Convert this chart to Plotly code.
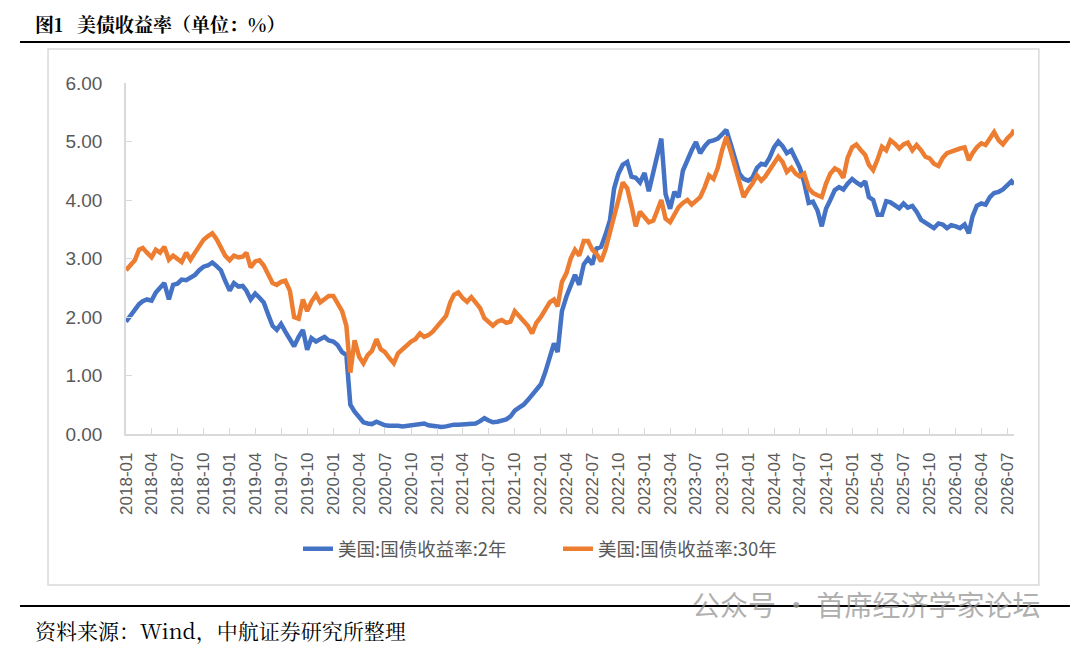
import pandas as pd
import plotly.graph_objects as go

# half-monthly readings (1st and 16th of each month), last point 2026-07-25
yield_2y = [
    # 2018
    1.92, 2.02, 2.12, 2.22, 2.27, 2.30, 2.28, 2.42, 2.50, 2.58, 2.30, 2.55,
    2.57, 2.64, 2.63, 2.68, 2.72, 2.80, 2.86, 2.88, 2.93, 2.87, 2.80, 2.62,
    # 2019
    2.45, 2.58, 2.52, 2.53, 2.45, 2.30, 2.40, 2.33, 2.25, 2.05, 1.85, 1.78,
    1.88, 1.75, 1.60, 1.50, 1.66, 1.78, 1.44, 1.64, 1.58, 1.62, 1.66, 1.60,
    # 2020
    1.58, 1.52, 1.40, 1.35, 0.50, 0.38, 0.28, 0.20, 0.18, 0.17, 0.21, 0.17,
    0.15, 0.14, 0.15, 0.14, 0.13, 0.14, 0.15, 0.16, 0.17, 0.18, 0.15, 0.14,
    # 2021
    0.13, 0.12, 0.13, 0.15, 0.16, 0.16, 0.17, 0.16, 0.17, 0.18, 0.22, 0.27,
    0.23, 0.20, 0.21, 0.22, 0.25, 0.30, 0.40, 0.45, 0.50, 0.58, 0.66, 0.74,
    # 2022
    0.85, 1.05, 1.30, 1.55, 1.40, 2.10, 2.35, 2.55, 2.72, 2.55, 2.90, 3.00,
    2.90, 3.17, 3.20, 3.40, 3.65, 4.20, 4.45, 4.60, 4.65, 4.40, 4.38, 4.30,
    # 2023
    4.46, 4.15, 4.46, 4.72, 5.05, 4.10, 3.85, 4.14, 4.05, 4.50, 4.70, 4.85,
    4.99, 4.80, 4.92, 5.00, 5.02, 5.05, 5.12, 5.20, 4.95, 4.72, 4.45, 4.36,
    # 2024
    4.33, 4.38, 4.55, 4.62, 4.60, 4.72, 4.90, 5.00, 4.92, 4.80, 4.85, 4.70,
    4.55, 4.30, 3.95, 3.97, 3.82, 3.55, 3.85, 4.00, 4.17, 4.22, 4.18, 4.28,
    # 2025
    4.36, 4.30, 4.25, 4.32, 4.05, 4.00, 3.75, 3.75, 3.98, 3.96, 3.90, 3.86,
    3.94, 3.87, 3.90, 3.80, 3.66, 3.62, 3.58, 3.52, 3.60, 3.58, 3.52, 3.57,
    # 2026
    3.55, 3.52, 3.58, 3.43, 3.72, 3.90, 3.94, 3.92, 4.05, 4.12, 4.14, 4.18,
    4.25, 4.32, 4.27,
]

yield_30y = [
    # 2018
    2.80, 2.88, 2.97, 3.15, 3.18, 3.10, 3.02, 3.15, 3.10, 3.20, 2.98, 3.05,
    3.00, 2.94, 3.10, 2.98, 3.10, 3.22, 3.32, 3.38, 3.43, 3.33, 3.18, 3.05,
    # 2019
    2.97, 3.05, 3.02, 3.03, 3.10, 2.85, 2.95, 2.97, 2.88, 2.75, 2.58, 2.55,
    2.60, 2.62, 2.45, 2.00, 1.97, 2.30, 2.10, 2.26, 2.38, 2.25, 2.30, 2.36,
    # 2020
    2.36, 2.25, 2.10, 1.85, 1.05, 1.60, 1.32, 1.21, 1.35, 1.42, 1.62, 1.45,
    1.40, 1.30, 1.21, 1.38, 1.45, 1.52, 1.58, 1.62, 1.72, 1.66, 1.69, 1.75,
    # 2021
    1.85, 1.95, 2.02, 2.25, 2.38, 2.42, 2.32, 2.26, 2.34, 2.25, 2.15, 1.98,
    1.92, 1.85, 1.92, 1.95, 1.90, 1.92, 2.10, 2.02, 1.95, 1.85, 1.72, 1.90,
    # 2022
    2.00, 2.12, 2.25, 2.30, 2.18, 2.60, 2.75, 3.00, 3.15, 3.05, 3.30, 3.30,
    3.15, 3.08, 2.95, 3.15, 3.43, 3.75, 4.00, 4.30, 4.20, 3.90, 3.55, 3.80,
    # 2023
    3.70, 3.62, 3.65, 3.85, 4.00, 3.68, 3.62, 3.75, 3.88, 3.95, 4.00, 3.92,
    3.98, 4.05, 4.22, 4.42, 4.36, 4.55, 4.85, 5.08, 4.82, 4.55, 4.25, 4.05,
    # 2024
    4.18, 4.28, 4.42, 4.33, 4.40, 4.52, 4.65, 4.74, 4.65, 4.48, 4.55, 4.45,
    4.40, 4.45, 4.20, 4.12, 4.08, 4.05, 4.28, 4.45, 4.54, 4.50, 4.38, 4.72,
    # 2025
    4.90, 4.95, 4.85, 4.77, 4.60, 4.51, 4.70, 4.91, 4.85, 5.02, 4.96, 4.88,
    4.95, 4.98, 4.85, 4.94, 4.85, 4.74, 4.71, 4.62, 4.58, 4.72, 4.80, 4.83,
    # 2026
    4.85, 4.88, 4.90, 4.68, 4.80, 4.90, 4.97, 4.94, 5.05, 5.16, 5.02, 4.95,
    5.05, 5.12, 5.20,
]

series_names = ['美国:国债收益率:2年', '美国:国债收益率:30年']
series_colors = ['#4472C4', '#ED7D31']

months = pd.date_range('2018-01-01', '2026-07-01', freq='MS')
dates = []
for m in months:
    dates.append(m)
    dates.append(m + pd.Timedelta(days=15))
dates.append(pd.Timestamp('2026-07-25'))

data = []
for name, vals, col in zip(series_names, [yield_2y, yield_30y], series_colors):
    data.append(go.Scatter(
        x=dates,
        y=vals,
        name=name,
        mode='lines',
        line=dict(color=col, width=4.5),
    ))

cjk = 'Noto Sans CJK SC'
serif_cjk = 'Noto Serif CJK SC, Noto Sans CJK SC'

# page body has an 8px margin, so the figure is 8px smaller than the window
fig = go.Figure(
    data=data,
    layout=go.Layout(
        width=1072,
        height=639,
        margin=dict(l=118, r=66, t=75, b=213),
        paper_bgcolor='white',
        plot_bgcolor='white',
        font=dict(family=cjk, color='#595959'),
        xaxis=dict(
            type='date',
            range=['2018-01-01', '2026-07-25'],
            tick0='2018-01-01',
            dtick='M3',
            tickformat='%Y-%m',
            tickangle=-90,
            ticks='inside',
            ticklen=6,
            tickcolor='#d9d9d9',
            showline=True,
            linecolor='#d9d9d9',
            linewidth=1.5,
            showgrid=False,
            zeroline=False,
            tickfont=dict(family='Liberation Sans', size=17, color='#595959'),
            ticklabelstandoff=10,
        ),
        yaxis=dict(
            range=[0, 6],
            dtick=1,
            tickformat='.2f',
            ticks='inside',
            ticklen=6,
            tickcolor='#d9d9d9',
            showline=True,
            linecolor='#d9d9d9',
            linewidth=1.5,
            showgrid=False,
            zeroline=False,
            tickfont=dict(family='Liberation Sans', size=19, color='#595959'),
            ticklabelstandoff=18,
        ),
        legend=dict(
            orientation='h',
            x=0.1937,
            xanchor='left',
            y=-0.328,
            yanchor='middle',
            font=dict(family=cjk, size=18.5, color='#595959'),
            entrywidth=215,
        ),
        showlegend=True,
    ),
)

# title, rules, chart box
fig.add_annotation(text='<b>图1\u00a0\u00a0\u00a0美债收益率（单位：%）</b>', xref='paper', yref='paper',
                   x=-0.1047, y=1.17, xanchor='left', yanchor='middle', showarrow=False,
                   font=dict(family=serif_cjk, size=19, color='#000000'))
fig.add_shape(type='line', xref='paper', yref='paper', x0=-0.1194, x1=1.063, y0=1.117, y1=1.117,
              line=dict(color='#000000', width=2))
fig.add_shape(type='rect', xref='paper', yref='paper', x0=-0.0878, x1=1.028, y0=-0.430, y1=1.097,
              line=dict(color='#d9d9d9', width=1.5))
fig.add_shape(type='line', xref='paper', yref='paper', x0=-0.1194, x1=1.063, y0=-0.490, y1=-0.490,
              line=dict(color='#000000', width=2))
fig.add_annotation(text='资料来源：Wind，中航证券研究所整理', xref='paper', yref='paper',
                   x=-0.1047, y=-0.558, xanchor='left', yanchor='middle', showarrow=False,
                   font=dict(family=serif_cjk, size=21, color='#000000'))
fig.add_annotation(text='公众号 · 首席经济学家论坛', xref='paper', yref='paper',
                   x=1.033, y=-0.484, xanchor='right', yanchor='middle', showarrow=False,
                   font=dict(family=cjk, size=28, color='rgba(150,150,150,0.75)'))

fig.write_html('out.html')
